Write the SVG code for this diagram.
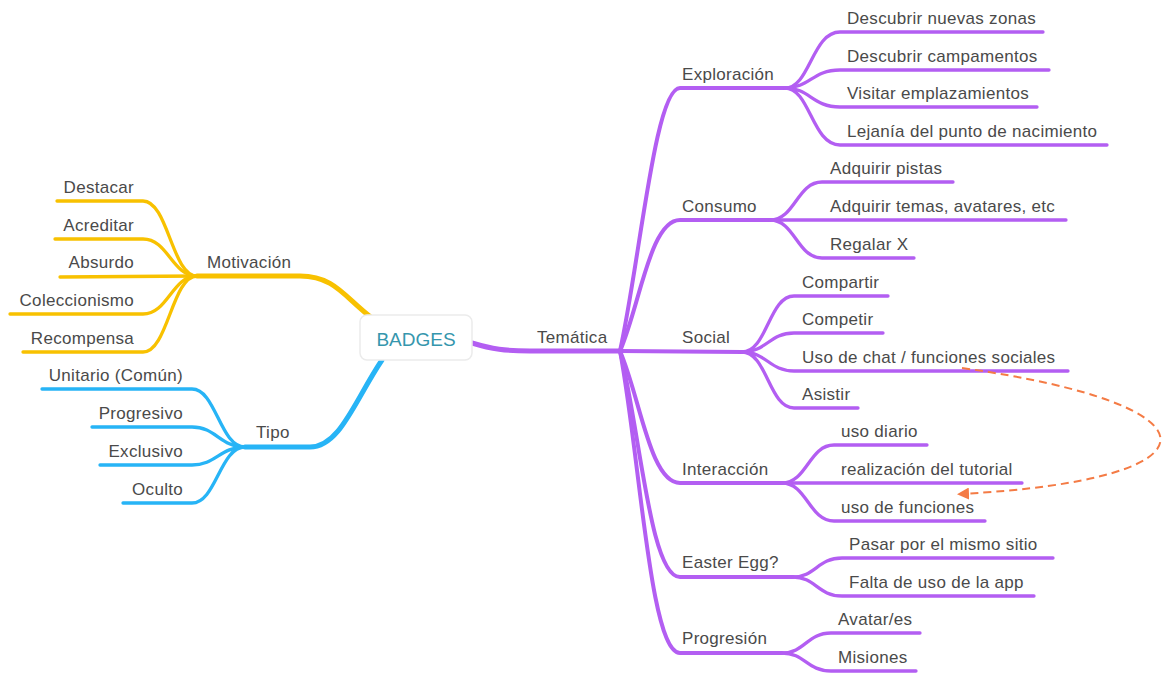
<svg xmlns="http://www.w3.org/2000/svg" width="1162" height="673" viewBox="0 0 1162 673">
<defs>
<style>
.t{font-family:"Liberation Sans",Arial,sans-serif;font-size:17px;fill:#4a4a4a;letter-spacing:0.3px}
.e{text-anchor:end}
.p{fill:none;stroke:#b35ef2;stroke-linecap:round}
.y{fill:none;stroke:#f8c100;stroke-linecap:round}
.b{fill:none;stroke:#27b4f6;stroke-linecap:round}
.m{stroke-width:4}
.s{stroke-width:3.3}
</style>
<marker id="ah" markerWidth="12" markerHeight="12" refX="9" refY="6" orient="auto" markerUnits="userSpaceOnUse">
<path d="M0,0 L12,6 L0,12 Z" fill="#f47b45"/>
</marker>
</defs>
<rect width="1162" height="673" fill="#ffffff"/>
<g id="connectors">
<path class="p" stroke-width="5" d="M472,343 C492,349 505,351 530,351 L620,351"/>
<path class="y" stroke-width="5" d="M197,276 L300,276 C335,276 345,298 372,318"/>
<path class="b" stroke-width="5" d="M245,447 L310,447 C340,447 355,400 382,360"/>
<path class="y s" d="M197,276 C172,276 168,201 143,201 L57,201"/>
<path class="y s" d="M197,276 C172,276 168,239 143,239 L55,239"/>
<path class="y s" d="M197,276 L60,277"/>
<path class="y s" d="M197,276 C172,276 168,314 143,314 L10,314"/>
<path class="y s" d="M197,276 C172,276 168,352 143,352 L23,352"/>
<path class="b s" d="M245,447 C220,447 216,389 192,389 L42,389"/>
<path class="b s" d="M245,447 C220,447 216,427 192,427 L92,427"/>
<path class="b s" d="M245,447 C220,447 216,465 192,465 L100,465"/>
<path class="b s" d="M245,447 C220,447 216,503 192,503 L123,503"/>
<path class="p m" d="M620,351 C640,260 655,88 680,88 L785,88"/>
<path class="p m" d="M620,351 C640,305 650,220 680,220 L770,220"/>
<path class="p m" d="M620,351 L742,352"/>
<path class="p m" d="M620,351 C640,397 650,483 680,483 L782,483"/>
<path class="p m" d="M620,351 C640,430 650,577 680,577 L793,577"/>
<path class="p m" d="M620,351 C640,457 650,653 680,653 L782,653"/>
<path class="p s" d="M785,88 C810,88 812,32 840,32 L1043,32"/>
<path class="p s" d="M785,88 C810,88 812,70 840,70 L1049,70"/>
<path class="p s" d="M785,88 C810,88 812,107 840,107 L1037,107"/>
<path class="p s" d="M785,88 C810,88 812,145 840,145 L1107,145"/>
<path class="p s" d="M770,220 C795,220 797,182 822,182 L953,182"/>
<path class="p s" d="M770,220 L1066,220"/>
<path class="p s" d="M770,220 C795,220 797,258 822,258 L914,258"/>
<path class="p s" d="M742,352 C767,352 769,296 794,296 L888,296"/>
<path class="p s" d="M742,352 C767,352 769,333 794,333 L883,333"/>
<path class="p s" d="M742,352 C767,352 769,371 794,371 L1068,371"/>
<path class="p s" d="M742,352 C767,352 769,408 794,408 L858,408"/>
<path class="p s" d="M782,483 C807,483 809,445 834,445 L927,445"/>
<path class="p s" d="M782,483 L1022,483"/>
<path class="p s" d="M782,483 C807,483 809,521 834,521 L985,521"/>
<path class="p s" d="M793,577 C815,577 818,558 842,558 L1053,558"/>
<path class="p s" d="M793,577 C815,577 818,596 842,596 L1034,596"/>
<path class="p s" d="M782,653 C805,653 807,633 831,633 L920,633"/>
<path class="p s" d="M782,653 C805,653 807,671 831,671 L916,671"/>
<path d="M962,368 C1227,405 1227,480 960,494" fill="none" stroke="#f47b45" stroke-width="2" stroke-dasharray="8 5" marker-end="url(#ah)"/>
</g>
<g id="badges">
<rect x="360" y="315" width="112" height="45" rx="7" fill="#ffffff" stroke="#ebebeb" stroke-width="1.5"/>
<text x="416" y="346" text-anchor="middle" font-family="Liberation Sans, Arial, sans-serif" font-size="19" fill="#3596ad">BADGES</text>
</g>
<g id="motivacion"><text class="t" x="207" y="268">Motivación</text></g>
<g id="destacar"><text class="t e" x="134" y="193">Destacar</text></g>
<g id="acreditar"><text class="t e" x="134" y="231">Acreditar</text></g>
<g id="absurdo"><text class="t e" x="134" y="268">Absurdo</text></g>
<g id="coleccionismo"><text class="t e" x="134" y="306">Coleccionismo</text></g>
<g id="recompensa"><text class="t e" x="134" y="344">Recompensa</text></g>
<g id="tipo"><text class="t" x="256" y="438">Tipo</text></g>
<g id="unitario"><text class="t e" x="183" y="381">Unitario (Común)</text></g>
<g id="progresivo"><text class="t e" x="183" y="419">Progresivo</text></g>
<g id="exclusivo"><text class="t e" x="183" y="457">Exclusivo</text></g>
<g id="oculto"><text class="t e" x="183" y="495">Oculto</text></g>
<g id="tematica"><text class="t" x="537" y="343">Temática</text></g>
<g id="exploracion"><text class="t" x="682" y="80">Exploración</text></g>
<g id="exp1"><text class="t" x="847" y="24">Descubrir nuevas zonas</text></g>
<g id="exp2"><text class="t" x="847" y="62">Descubrir campamentos</text></g>
<g id="exp3"><text class="t" x="847" y="99">Visitar emplazamientos</text></g>
<g id="exp4"><text class="t" x="847" y="137">Lejanía del punto de nacimiento</text></g>
<g id="consumo"><text class="t" x="682" y="212">Consumo</text></g>
<g id="con1"><text class="t" x="830" y="174">Adquirir pistas</text></g>
<g id="con2"><text class="t" x="830" y="212">Adquirir temas, avatares, etc</text></g>
<g id="con3"><text class="t" x="830" y="250">Regalar X</text></g>
<g id="social"><text class="t" x="682" y="343">Social</text></g>
<g id="soc1"><text class="t" x="802" y="288">Compartir</text></g>
<g id="soc2"><text class="t" x="802" y="325">Competir</text></g>
<g id="soc3"><text class="t" x="802" y="363">Uso de chat / funciones sociales</text></g>
<g id="soc4"><text class="t" x="802" y="400">Asistir</text></g>
<g id="interaccion"><text class="t" x="682" y="475">Interacción</text></g>
<g id="int1"><text class="t" x="841" y="437">uso diario</text></g>
<g id="int2"><text class="t" x="841" y="475">realización del tutorial</text></g>
<g id="int3"><text class="t" x="841" y="513">uso de funciones</text></g>
<g id="easter"><text class="t" x="682" y="568">Easter Egg?</text></g>
<g id="eas1"><text class="t" x="849" y="550">Pasar por el mismo sitio</text></g>
<g id="eas2"><text class="t" x="849" y="588">Falta de uso de la app</text></g>
<g id="progresion"><text class="t" x="682" y="644">Progresión</text></g>
<g id="pro1"><text class="t" x="838" y="625">Avatar/es</text></g>
<g id="pro2"><text class="t" x="838" y="663">Misiones</text></g>
</svg>
